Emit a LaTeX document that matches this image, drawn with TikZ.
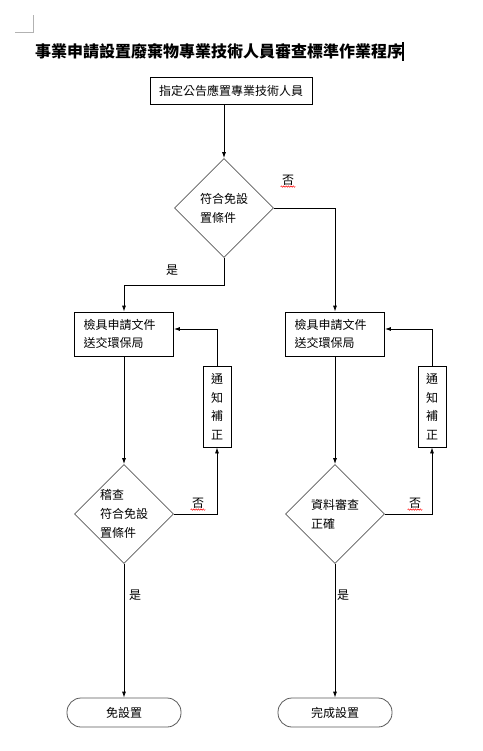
\documentclass[tikz,border=0pt]{standalone}
\usepackage{fontspec}
\newfontfamily\cjk{Noto Sans CJK TC}
\usetikzlibrary{shapes.geometric,arrows.meta,decorations.pathmorphing}
\tikzset{
  >={Latex[length=6pt,width=4pt]},
  every node/.style={font=\cjk\fontsize{12}{18}\selectfont},
  headbox/.style={draw, minimum width=162pt, minimum height=27pt, inner sep=0pt},
  docbox/.style={draw, text width=81pt, inner xsep=9pt, minimum height=44pt, align=left},
  notebox/.style={draw, minimum width=28pt, minimum height=81pt, inner sep=0pt, align=center,
    font=\cjk\fontsize{12}{18.5}\selectfont},
  decision/.style={shape=diamond, draw=gray!70!black, minimum width=99pt, minimum height=99pt,
    inner sep=0pt, align=left, font=\cjk\fontsize{12}{19}\selectfont},
  terminal/.style={draw=gray!70!black, rounded corners=14pt, minimum width=114pt, minimum height=29pt},
  answer/.style={inner sep=1pt},
  squiggle/.style={red, line width=0.5pt, decorate, decoration={snake, amplitude=0.7pt, segment length=2.4pt}}
}
\begin{document}
\begin{tikzpicture}[x=1pt, y=-1pt, line width=0.8pt]
\useasboundingbox (0,0) rectangle (482,751);
% page corner and cursor
\draw[gray!60, line width=0.6pt] (15,32) -- (33,32) -- (33,15);
\node[font=\cjk\bfseries\fontsize{16}{18}\selectfont] (title) at (219,51) {事業申請設置廢棄物專業技術人員審查標準作業程序};
\draw[line width=1.1pt] (403,42) -- (403,61);
% nodes
\node[headbox] (head) at (231,90.5) {指定公告應置專業技術人員};
\node[decision] (check) at (224,208) {符合免設\\置條件};
\node[docbox] (docL) at (124,334) {檢具申請文件\\送交環保局};
\node[docbox] (docR) at (335,334) {檢具申請文件\\送交環保局};
\node[notebox] (noteL) at (217,406.5) {通\\知\\補\\正};
\node[notebox] (noteR) at (432,406.5) {通\\知\\補\\正};
\node[decision] (auditL) at (124,514) {稽查\\符合免設\\置條件};
\node[decision] (auditR) at (335,514) {資料審查\\正確};
\node[terminal] (exempt) at (124,712.5) {免設置};
\node[terminal] (done) at (335,712.5) {完成設置};
% answers
\node[answer] (noA) at (288,180) {否};
\node[answer] (yesA) at (172,270) {是};
\node[answer] (noB) at (198,503) {否};
\node[answer] (noC) at (415,503) {否};
\node[answer] (yesB) at (135,595) {是};
\node[answer] (yesC) at (343,595) {是};
\foreach \n in {noA,noB,noC}
  \draw[squiggle] (\n.south west) -- (\n.south east);
% connectors
\coordinate (bend) at (224,285);
\draw[->] (check.north |- head.south) -- (check.north);
\draw[->] (check.east) -| (docR.north);
\draw[->] (check.south) -- (bend) -| (docL.north);
\draw[->] (docL.south) -- (auditL.north);
\draw[->] (docR.south) -- (auditR.north);
\draw[->] (auditL.south) -- (exempt.north);
\draw[->] (auditR.south) -- (done.north);
\draw[->] (auditL.east) -| (noteL.south);
\draw[->] (auditR.east) -| (noteR.south);
\draw[->] (noteL.north) |- ([yshift=5pt]docL.east);
\draw[->] (noteR.north) |- ([yshift=5pt]docR.east);
\end{tikzpicture}
\end{document}
